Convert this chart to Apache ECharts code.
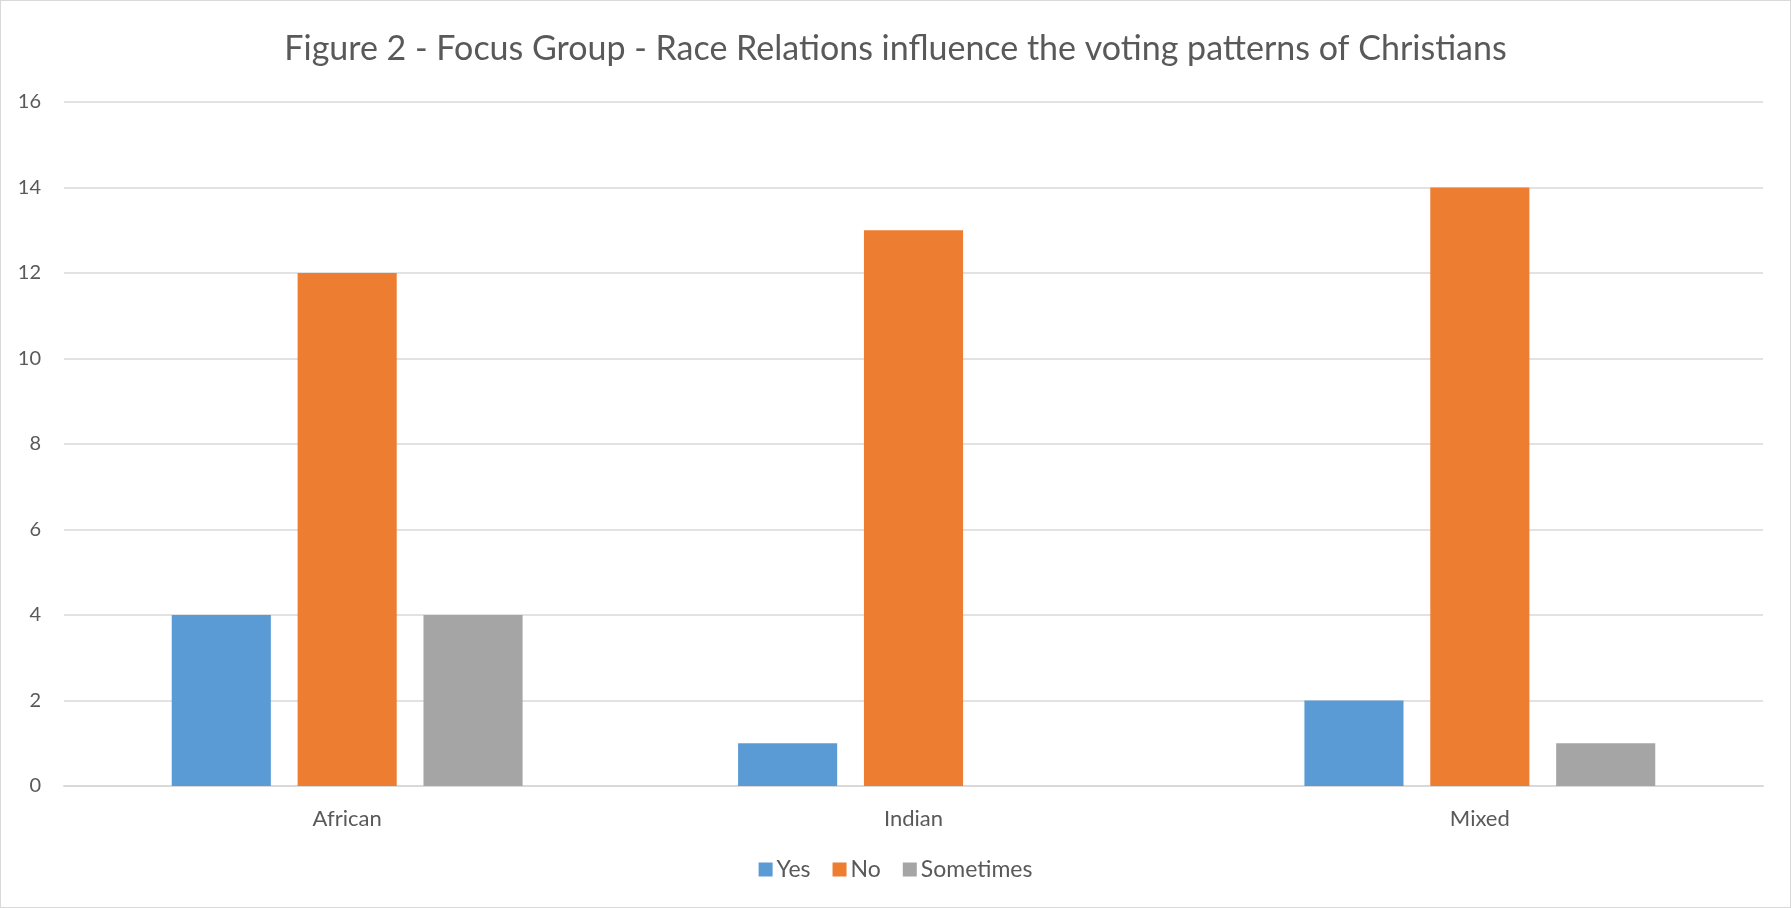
<!DOCTYPE html>
<html>
<head>
<meta charset="utf-8">
<script src="https://cdn.jsdelivr.net/npm/echarts@6/dist/echarts.min.js"></script>
<style>
html,body{margin:0;padding:0;background:#fff;}
#wrap{position:absolute;left:0;top:0;width:1789px;height:906px;border:1px solid #d9d9d9;}
#chart{width:1789px;height:906px;}
</style>
</head>
<body>
<div id="wrap"><div id="chart"></div></div>
<script>
const titleText = 'Figure 2 - Focus Group - Race Relations influence the voting patterns of Christians';
const categories = ['African', 'Indian', 'Mixed'];
const seriesNames = ['Yes', 'No', 'Sometimes'];
const yesValues = [4, 1, 2];
const noValues = [12, 13, 14];
const sometimesValues = [4, 0, 1];
const colors = ['#5B9BD5', '#ED7D31', '#A5A5A5'];

const FONT = 'Lato';
const chart = echarts.init(document.getElementById('chart'));
const values = [yesValues, noValues, sometimesValues];
chart.setOption({
  animation: false,
  color: colors,
  textStyle: { fontFamily: FONT },
  title: {
    text: titleText,
    left: 'center',
    top: 26,
    textStyle: { fontFamily: FONT, fontSize: 34, fontWeight: 'normal', color: '#595959' }
  },
  legend: {
    data: seriesNames,
    bottom: 21,
    left: 'center',
    itemWidth: 14,
    itemHeight: 14,
    itemGap: 22,
    icon: 'rect',
    textStyle: { fontFamily: FONT, fontSize: 23, color: '#595959', padding: [0, 0, 0, -1] }
  },
  grid: { left: 63, right: 27, top: 101, bottom: 121, containLabel: false },
  xAxis: {
    type: 'category',
    data: categories,
    axisLine: { lineStyle: { color: '#d9d9d9', width: 2 } },
    axisTick: { show: false },
    axisLabel: { fontFamily: FONT, fontSize: 22, color: '#595959', margin: 22 }
  },
  yAxis: {
    type: 'value',
    min: 0,
    max: 16,
    interval: 2,
    axisLine: { show: false },
    axisTick: { show: false },
    splitLine: { lineStyle: { color: '#d9d9d9', width: 1.5 } },
    axisLabel: { fontFamily: FONT, fontSize: 20, color: '#595959', margin: 23 }
  },
  series: seriesNames.map((name, i) => ({
    name: name,
    type: 'bar',
    data: values[i],
    barWidth: '17.5%',
    barGap: '27%'
  }))
});
</script>
</body>
</html>
